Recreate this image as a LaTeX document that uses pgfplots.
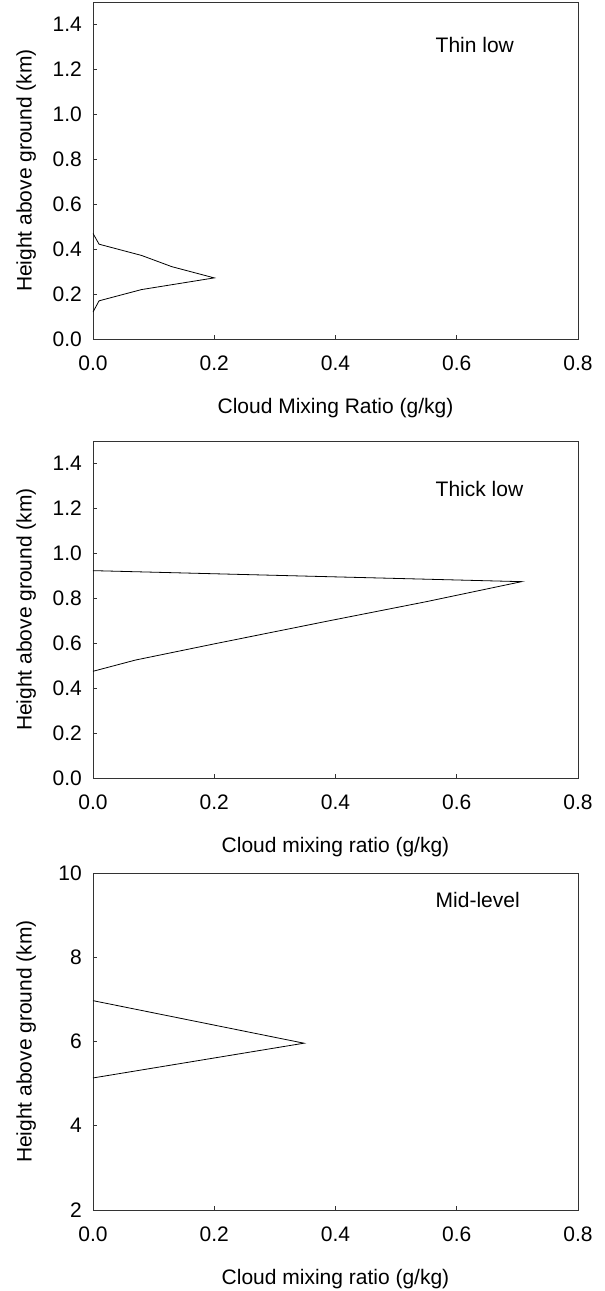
\documentclass[border=0pt]{standalone}
\usepackage{pgfplots}
\pgfplotsset{compat=1.18}
\usepackage{fontspec}
\setmainfont{Liberation Sans}
\newcommand{\bigf}{\fontsize{21}{25}\selectfont}
\begin{document}
\begin{tikzpicture}
\useasboundingbox (0pt,0pt) rectangle (605pt,-1291pt);
\pgfplotsset{
  panel/.style={
    scale only axis, width=485pt, height=337pt,
    xmin=0, xmax=0.8,
    xtick={0,0.2,0.4,0.6,0.8},
    xtick pos=bottom, ytick pos=left,
    tick align=inside, major tick length=4pt,
    axis line style={line width=0.9pt, black!80},
    tick style={line width=0.8pt, black!80},
    /pgf/number format/assume math mode=true,
    tick label style={font=\bigf},
    label style={font=\bigf},
    x tick label style={/pgf/number format/fixed, /pgf/number format/fixed zerofill, /pgf/number format/precision=1, anchor=center, inner sep=0pt, yshift=-24pt},
    y tick label style={anchor=east, inner sep=0pt, xshift=-11pt},
    xlabel style={at={(axis description cs:0.5,-0.205)}, anchor=center, inner sep=0pt},
    ylabel style={at={(axis description cs:-0.1375,0.5)}, anchor=center, inner sep=0pt},
    ylabel={Height above ground (km)},
  }
}
% Panel 1
\begin{axis}[panel, at={(93pt,-2pt)}, anchor=north west,
  ymin=0, ymax=1.5, ytick={0,0.2,...,1.4},
  y tick label style={/pgf/number format/fixed, /pgf/number format/fixed zerofill, /pgf/number format/precision=1},
  xlabel={Cloud Mixing Ratio (g/kg)}]
\addplot[black, line width=0.8pt] coordinates {
(0,0.12) (0.01,0.17) (0.08,0.22) (0.2,0.272) (0.13,0.322) (0.08,0.372) (0.01,0.422) (0,0.47)};
\node[anchor=west, inner sep=0pt, font=\bigf] at (axis cs:0.565,1.31) {Thin low};
\end{axis}
% Panel 2
\begin{axis}[panel, at={(93pt,-441pt)}, anchor=north west,
  ymin=0, ymax=1.5, ytick={0,0.2,...,1.4},
  y tick label style={/pgf/number format/fixed, /pgf/number format/fixed zerofill, /pgf/number format/precision=1},
  xlabel={Cloud mixing ratio (g/kg)}]
\addplot[black, line width=0.8pt] coordinates {
(0,0.475) (0.07,0.525) (0.2,0.597) (0.39,0.70) (0.55,0.785) (0.707,0.874) (0,0.923)};
\node[anchor=west, inner sep=0pt, font=\bigf] at (axis cs:0.565,1.286) {Thick low};
\end{axis}
% Panel 3
\begin{axis}[panel, at={(93pt,-873pt)}, anchor=north west,
  ymin=2, ymax=10, ytick={2,4,6,8,10},
  xlabel={Cloud mixing ratio (g/kg)}]
\addplot[black, line width=0.8pt] coordinates {
(0,5.135) (0.348,5.96) (0,6.97)};
\node[anchor=west, inner sep=0pt, font=\bigf] at (axis cs:0.565,9.35) {Mid-level};
\end{axis}
\end{tikzpicture}
\end{document}
